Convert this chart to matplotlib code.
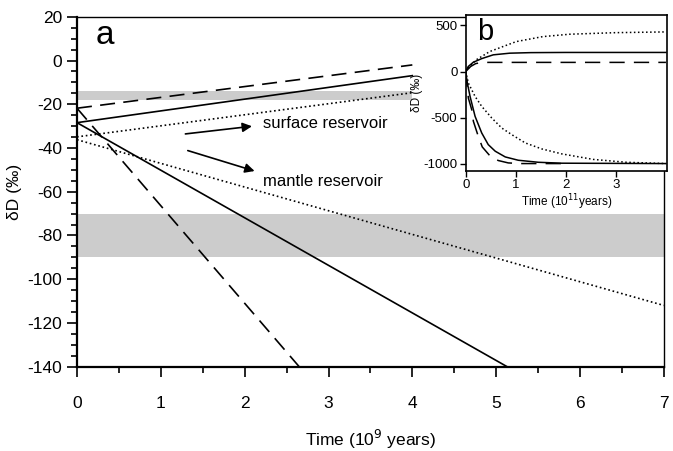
#!/usr/bin/env python3

import matplotlib
matplotlib.use('Agg')
import matplotlib.pyplot as plt
from matplotlib.ticker import MultipleLocator

plt.rcParams['font.family'] = ['Liberation Sans', 'DejaVu Sans']
plt.rcParams['axes.unicode_minus'] = False

## panel a: time in 10^9 years, dD in permil
surf_t = [0, 4]
surf_dashed = [-21.8, -2.0]
surf_solid = [-28.4, -6.9]
surf_dotted = [-34.9, -14.7]

mantle_dashed_t = [0, 2.65]
mantle_dashed = [-21.8, -140]
mantle_solid_t = [0, 5.13]
mantle_solid = [-28.4, -140]
mantle_dotted_t = [0, 7]
mantle_dotted = [-36.2, -112]

band_upper = (-18, -14, 0, 4)      # ymin, ymax, xmin, xmax
band_lower = (-90, -70, 0, 7)

## panel b: time in 10^11 years
b_up_dot_t = [0, 0.08, 0.21, 0.48, 1.01, 1.54, 2.08, 3.0, 4.0]
b_up_dot = [0, 55, 127, 217, 325, 379, 405, 422, 430]
b_up_sol_t = [0, 0.05, 0.15, 0.32, 0.55, 0.88, 1.3, 2.0, 4.0]
b_up_sol = [0, 54, 100, 140, 181, 199, 205, 207, 207]
b_up_das_t = [0, 0.1, 0.2, 0.3, 0.45, 4.0]
b_up_das = [0, 55, 86, 96, 99, 99]

b_lo_sol_t = [0, 0.02, 0.087, 0.187, 0.32, 0.45, 0.59, 0.79, 1.05, 1.45, 1.92, 4.0]
b_lo_sol = [0, -90, -271, -487, -668, -794, -866, -928, -964, -986, -996, -1000]
b_lo_das_t = [0, 0.053, 0.12, 0.153, 0.24, 0.33, 0.49, 0.65, 0.85, 1.1, 2.0]
b_lo_das = [0, -289, -415, -541, -686, -819, -920, -967, -993, -1000, -1000]
b_lo_dot_t = [0, 0.053, 0.187, 0.32, 0.52, 0.72, 0.92, 1.19, 1.52, 1.92, 2.55, 3.21, 4.0]
b_lo_dot = [0, -126, -271, -379, -505, -614, -686, -776, -841, -895, -955, -986, -1000]

fig = plt.figure(figsize=(6.73, 4.51), dpi=100)
ax = fig.add_axes([0.1144, 0.187, 0.872, 0.7757])

ax.axhspan(band_upper[0], band_upper[1], xmin=band_upper[2] / 7, xmax=band_upper[3] / 7,
           color='#cccccc', lw=0, zorder=0)
ax.axhspan(band_lower[0], band_lower[1], color='#cccccc', lw=0, zorder=0)

lw = 1.2
ax.plot(surf_t, surf_dashed, color='black', lw=lw, dashes=(9, 5))
ax.plot(surf_t, surf_solid, color='black', lw=lw)
ax.plot(surf_t, surf_dotted, color='black', lw=lw, linestyle=':')
ax.plot(mantle_dashed_t, mantle_dashed, color='black', lw=lw, dashes=(9, 5))
ax.plot(mantle_solid_t, mantle_solid, color='black', lw=lw)
ax.plot(mantle_dotted_t, mantle_dotted, color='black', lw=lw, linestyle=':')

ax.set_xlim(0, 7)
ax.set_ylim(-140, 20)
ax.xaxis.set_major_locator(MultipleLocator(1))
ax.xaxis.set_minor_locator(MultipleLocator(0.5))
ax.yaxis.set_major_locator(MultipleLocator(20))
ax.yaxis.set_minor_locator(MultipleLocator(5))
ax.tick_params(which='both', direction='out', top=False, right=False, width=1.2, labelsize=12.5)
ax.tick_params(which='major', length=7)
ax.tick_params(which='minor', length=4.5)
ax.tick_params(axis='x', pad=14)
for side in ['left', 'bottom']:
    ax.spines[side].set_linewidth(1.6)
for side in ['top', 'right']:
    ax.spines[side].set_linewidth(1.0)

ax.set_xlabel('Time (10$^{9}$ years)', fontsize=12.5, labelpad=12)
ax.set_ylabel('δD (‰)', fontsize=12.5, labelpad=4)
ax.text(0.22, 11.5, 'a', fontsize=24, va='center', ha='left')

ax.annotate('', xy=(2.12, -29.9), xytext=(1.26, -33.7),
            arrowprops=dict(arrowstyle='-|>', color='black', lw=1.2, mutation_scale=14))
ax.annotate('', xy=(2.15, -50.9), xytext=(1.29, -40.8),
            arrowprops=dict(arrowstyle='-|>', color='black', lw=1.2, mutation_scale=14))
ax.text(2.22, -29.0, 'surface reservoir', fontsize=12, va='center')
ax.text(2.22, -55.5, 'mantle reservoir', fontsize=12, va='center')

## inset b
axb = fig.add_axes([0.692, 0.621, 0.299, 0.346])
axb.plot(b_up_dot_t, b_up_dot, color='black', lw=1.1, linestyle=':')
axb.plot(b_up_sol_t, b_up_sol, color='black', lw=1.1)
axb.plot(b_up_das_t, b_up_das, color='black', lw=1.1, dashes=(10, 6))
axb.plot(b_lo_dot_t, b_lo_dot, color='black', lw=1.1, linestyle=':')
axb.plot(b_lo_sol_t, b_lo_sol, color='black', lw=1.1)
axb.plot(b_lo_das_t, b_lo_das, color='black', lw=1.1, dashes=(10, 6))

axb.set_xlim(0, 4.02)
axb.set_ylim(-1080, 615)
axb.set_xticks([0, 1, 2, 3])
axb.set_yticks([500, 0, -500, -1000])
axb.tick_params(direction='out', length=4, width=1.0, labelsize=9.5, pad=2)
for side in axb.spines:
    axb.spines[side].set_linewidth(1.2)
axb.set_xlabel('Time (10$^{11}$years)', fontsize=8.5, labelpad=1)
axb.set_ylabel('δD (‰)', fontsize=8.5, labelpad=0)
axb.text(0.22, 430, 'b', fontsize=21, va='center', ha='left')

fig.savefig('out.png', dpi=100)
